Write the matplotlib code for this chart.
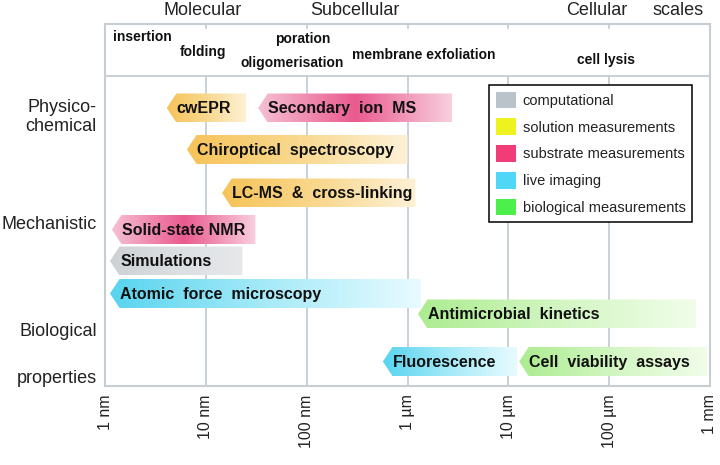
import numpy as np
import matplotlib
matplotlib.use('Agg')
import matplotlib.pyplot as plt
from matplotlib.colors import LinearSegmentedColormap
from matplotlib.patches import Polygon, Patch

plt.rcParams['font.family'] = ['Liberation Sans', 'DejaVu Sans']

# length scale in nm
tick_values = [1, 10, 100, 1e3, 1e4, 1e5, 1e6]
tick_labels = ['1 nm', '10 nm', '100 nm', '1 µm', '10 µm', '100 µm', '1 mm']

scale_names = ['Molecular', 'Subcellular', 'Cellular', 'scales']
process_names = ['insertion', 'folding', 'poration', 'oligomerisation',
                 'membrane exfoliation', 'cell lysis']
row_names = ['Physico-\nchemical', 'Mechanistic', 'Biological', 'properties']

# techniques: label, start (nm), end (nm), category
tech_labels = ['cwEPR', 'Secondary  ion  MS', 'Chiroptical  spectroscopy',
               'LC-MS  &  cross-linking', 'Solid-state NMR', 'Simulations',
               'Atomic  force  microscopy', 'Antimicrobial  kinetics',
               'Fluorescence', 'Cell  viability  assays']
tech_start = [4.1, 33, 6.5, 14.5, 1.17, 1.12, 1.12, 1270, 570, 12800]
tech_end = [25, 2760, 1000, 1200, 31, 23, 1360, 726000, 12200, 934000]
tech_cat = ['solution', 'substrate', 'solution', 'solution', 'substrate',
            'computational', 'live', 'biological', 'live', 'biological']

legend_keys = ['computational', 'solution', 'substrate', 'live', 'biological']
legend_labels = ['computational', 'solution measurements', 'substrate measurements',
                 'live imaging', 'biological measurements']

# layout (pixel rows of the 720x465 canvas)
tech_row = [108, 108, 149.5, 193, 229.5, 261, 293.5, 314, 361.5, 361.5]
bar_h = 29
tip = 0.095

legend_colors = {
    'computational': '#b9c3c9',
    'solution': '#eef21e',
    'substrate': '#f23c78',
    'live': '#50d6f6',
    'biological': '#4cf04a',
}
grad_stops = {
    'computational': ['#cdd1d5', '#dcdfe2', '#e6e8ea'],
    'solution': ['#f6c358', '#f9d88e', '#fdf1d6'],
    'substrate': ['#f6c0d4', '#ea5a8e', '#f8cfdf'],
    'live': ['#58d4ef', '#a6eaf8', '#e8fbff'],
    'biological': ['#acec90', '#d2f6c2', '#f1fde9'],
}

grid_col = '#c6ced3'

fig = plt.figure(figsize=(7.2, 4.65), dpi=100)
ax = fig.add_axes([105 / 720, 1 - 386 / 465, 605 / 720, 362 / 465])

x_ticks = np.log10(tick_values)
xmin, xmax = x_ticks[0], x_ticks[-1]
ytop, ybot = 24, 386

# grid
for xt in x_ticks[1:-1]:
    ax.plot([xt, xt], [76, ybot], color=grid_col, lw=1.3, zorder=0)
    ax.plot([xt, xt], [ytop, 28], color=grid_col, lw=1.3, zorder=0)
ax.plot([xmin, xmax - 0.02], [76, 76], color=grid_col, lw=1.3, zorder=0)

# arrows with gradient fill
for lab, s, e, cat, yc in zip(tech_labels, tech_start, tech_end, tech_cat, tech_row):
    x0, x1 = np.log10(s), np.log10(e)
    y0, y1 = yc - bar_h / 2, yc + bar_h / 2
    poly = Polygon([(x0, yc), (x0 + tip, y0), (x1, y0), (x1, y1), (x0 + tip, y1)],
                   closed=True, facecolor='none', edgecolor='none')
    ax.add_patch(poly)
    cmap = LinearSegmentedColormap.from_list(cat, grad_stops[cat])
    grad = np.linspace(0, 1, 256).reshape(1, -1)
    im = ax.imshow(grad, cmap=cmap, extent=(x0, x1, y1, y0), aspect='auto',
                   interpolation='bilinear', zorder=2)
    im.set_clip_path(poly)
    ax.text(x0 + 0.1, yc + 0.5, lab, fontsize=11.5, fontweight='bold',
            color='#111111', va='center', ha='left', zorder=3)

ax.set_xlim(xmin, xmax)
ax.set_ylim(ybot, ytop)

# header processes
px = lambda p: (p - 105) / 100.83
head_pos = [(113, 37, 'left'), (180, 52, 'left'), (275, 39, 'left'),
            (240, 63, 'left'), (352, 55, 'left'), (577, 60, 'left')]
for name, (hx, hy, ha) in zip(process_names, head_pos):
    ax.text(px(hx), hy, name, fontsize=10, fontweight='bold', color='#111111',
            ha=ha, va='center')

# scale names above the frame
scale_pos = [(203, 10), (355, 10), (597, 10), (678, 10)]
for name, (sx, sy) in zip(scale_names, scale_pos):
    ax.text(px(sx), sy, name, fontsize=13, color='#222222', ha='center',
            va='center', clip_on=False)

# row labels on the left
row_pos = [117, 224, 331, 378]
for name, ry in zip(row_names, row_pos):
    ax.text(px(97), ry, name, fontsize=13, color='#222222', ha='right',
            va='center', clip_on=False, linespacing=1.2)

ax.set_xticks(x_ticks)
ax.set_xticklabels(tick_labels, rotation=90, fontsize=11.5, color='#222222')
ax.tick_params(axis='x', length=0, pad=6)
ax.set_yticks([])
for sp in ax.spines.values():
    sp.set_color(grid_col)
    sp.set_linewidth(1.5)

handles = [Patch(facecolor=legend_colors[k], edgecolor='none') for k in legend_keys]
leg = ax.legend(handles, legend_labels, loc='upper left',
                bbox_to_anchor=(0.635, 0.8315), borderaxespad=0,
                fontsize=10.5, handlelength=1.4, handleheight=1.4,
                handletextpad=0.45, labelspacing=0.68, borderpad=0.45,
                fancybox=False, framealpha=1, edgecolor='black')
leg.get_frame().set_linewidth(1.1)
for t in leg.get_texts():
    t.set_color('#222222')

fig.savefig('out.png', dpi=100)
